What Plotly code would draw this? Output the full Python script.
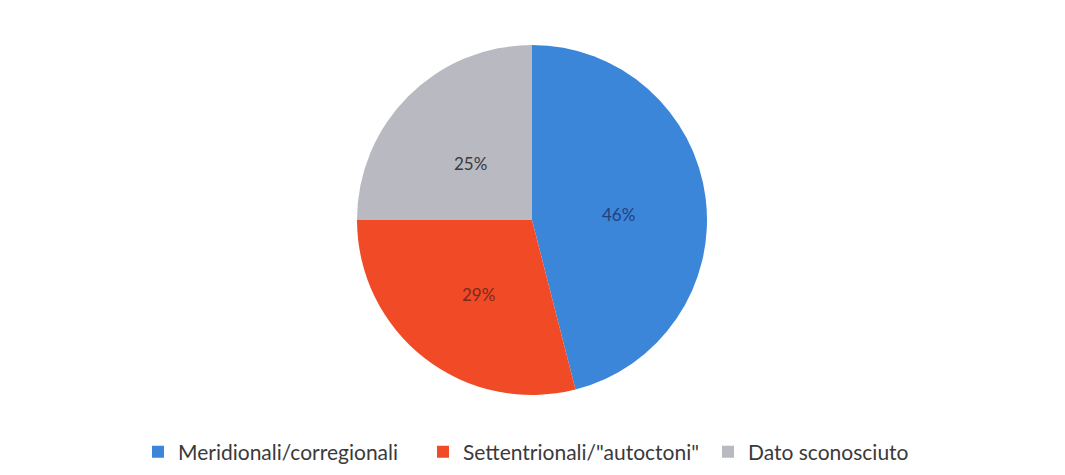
import math
import plotly.graph_objects as go

# Share of residents by origin
categories = ["Meridionali/corregionali", "Settentrionali/\"autoctoni\"", "Dato sconosciuto"]
shares = [46, 29, 25]
slice_colors = ["#3b86d8", "#f04b26", "#b9b9c1"]
label_colors = ["#24407f", "#7c2a1e", "#3a3a40"]

W, H = 1065, 475
cx, cy, r = 532, 220, 175
FONT = "Lato, Open Sans, sans-serif"

fig = go.Figure(
    go.Pie(
        labels=categories,
        values=shares,
        sort=False,
        direction="clockwise",
        rotation=0,
        marker=dict(colors=slice_colors, line=dict(width=0)),
        textinfo="none",
        domain=dict(
            x=[(cx - r) / W, (cx + r) / W],
            y=[(H - cy - r) / H, (H - cy + r) / H],
        ),
        hoverinfo="label+percent",
    )
)

# Percentage labels placed halfway out along each slice's mid-angle
total = sum(shares)
cum = 0.0
for val, col in zip(shares, label_colors):
    mid = (cum + val / 2) / total * 2 * math.pi
    cum += val
    px = cx + 0.5 * r * math.sin(mid)
    py = cy - 0.5 * r * math.cos(mid) + 5
    fig.add_annotation(
        x=px / W,
        y=1 - py / H,
        xref="paper",
        yref="paper",
        text=f"{round(val / total * 100)}%",
        showarrow=False,
        font=dict(family=FONT, size=17, color=col),
    )

fig.update_layout(
    width=W,
    height=H,
    margin=dict(l=0, r=0, t=0, b=0),
    paper_bgcolor="#ffffff",
    plot_bgcolor="#ffffff",
    showlegend=True,
    legend=dict(
        orientation="h",
        x=138 / W,
        xanchor="left",
        y=1 - 452 / H,
        yanchor="middle",
        font=dict(family=FONT, size=21, color="#3a3a3a"),
        entrywidth=240,
        entrywidthmode="pixels",
        traceorder="normal",
    ),
)

fig.write_html("out.html")
